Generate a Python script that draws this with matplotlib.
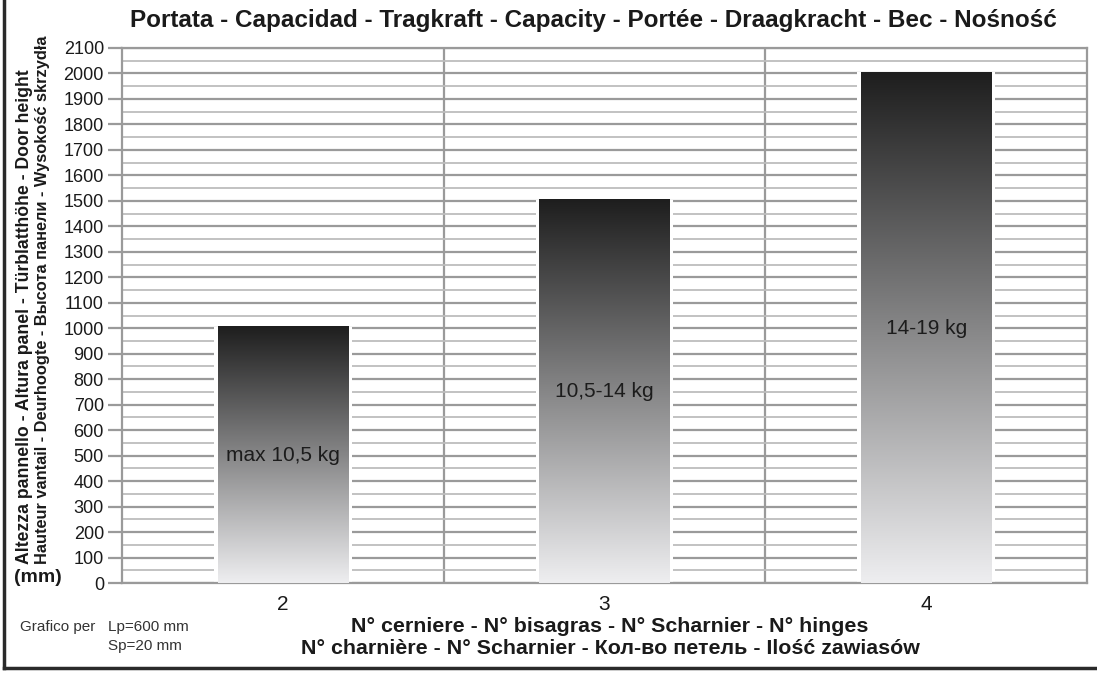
import matplotlib
matplotlib.use("Agg")
import matplotlib.pyplot as plt
import numpy as np
from matplotlib.colors import LinearSegmentedColormap
from matplotlib.ticker import MultipleLocator

# ---- data ----
hinges = [2, 3, 4]
door_height = [1005, 1505, 2005]
capacity_labels = ["max 10,5 kg", "10,5-14 kg", "14-19 kg"]
label_heights = [500, 750, 1000]
y_ticks = list(range(0, 2101, 100))

title = "Portata - Capacidad - Tragkraft - Capacity - Portée - Draagkracht - Bec - Nośność"
ylabel1 = "Altezza pannello - Altura panel - Türblatthöhe - Door height"
ylabel2 = "Hauteur vantail - Deurhoogte - Высота панели - Wysokość skrzydła"
xlabel1 = "N° cerniere - N° bisagras - N° Scharnier - N° hinges"
xlabel2 = "N° charnière - N° Scharnier - Кол-во петель - Ilość zawiasów"

plt.rcParams['font.family'] = ["Liberation Sans", "DejaVu Sans"]

W, H = 1097, 675
fig = plt.figure(figsize=(W / 100, H / 100), dpi=100)
fig.patch.set_facecolor("white")

ax = fig.add_axes([122 / W, 1 - 583 / H, (1087 - 122) / W, (583 - 48) / H])
ax.set_facecolor("white")
ax.set_xlim(1.5, 4.5)
ax.set_ylim(0, 2100)

grid_major = "#9a9a9a"
grid_minor = "#bdbdbd"
ax.yaxis.set_major_locator(MultipleLocator(100))
ax.yaxis.set_minor_locator(MultipleLocator(50))
ax.grid(axis="y", which="major", color=grid_major, lw=1.6, zorder=1)
ax.grid(axis="y", which="minor", color=grid_minor, lw=1.3, zorder=1)
for xv in [2.5, 3.5]:
    ax.axvline(xv, color=grid_major, lw=1.6, zorder=1)

for s in ax.spines.values():
    s.set_color(grid_major)
    s.set_linewidth(1.6)

ax.set_yticks(y_ticks)
ax.set_yticklabels([str(v) for v in y_ticks])
ax.tick_params(axis="y", which="major", length=10, width=1.6, color=grid_major,
               labelsize=13, labelcolor="#1a1a1a", pad=3)
ax.tick_params(axis="y", which="minor", length=0)
ax.set_xticks(hinges)
ax.set_xticklabels([str(h) for h in hinges])
ax.tick_params(axis="x", length=0, labelsize=15, labelcolor="#1a1a1a", pad=9)

# bars: white backing to clear grid, gradient fill on top
bw = 0.405
ax.bar(hinges, door_height, width=bw + 0.022, color="white", zorder=2)
cmap = LinearSegmentedColormap.from_list("g", ["#eeeef0", "#1e1e1e"])
grad = np.linspace(0, 1, 256).reshape(-1, 1)
for x, h in zip(hinges, door_height):
    ax.imshow(grad, extent=[x - bw / 2, x + bw / 2, 0, h], origin="lower",
              aspect="auto", cmap=cmap, zorder=3, interpolation="bicubic")
ax.set_xlim(1.5, 4.5)
ax.set_ylim(0, 2100)

for x, lbl, yl in zip(hinges, capacity_labels, label_heights):
    ax.text(x, yl, lbl, ha="center", va="center", fontsize=15,
            color="#1c1c1c", zorder=4)

# texts
fig.text(593 / W, 1 - 20 / H, title, ha="center", va="center", fontsize=17.5,
         fontweight="bold", color="#1a1a1a")
fig.text(25 / W, 1 - 564 / H, ylabel1, rotation=90, ha="center", va="bottom",
         fontsize=12.7, fontweight="bold", color="#1a1a1a")
fig.text(43 / W, 1 - 564 / H, ylabel2, rotation=90, ha="center", va="bottom",
         fontsize=11.8, fontweight="bold", color="#1a1a1a")
fig.text(38 / W, 1 - 578 / H, "(mm)", ha="center", va="center",
         fontsize=14, fontweight="bold", color="#1a1a1a")

fig.text(20 / W, 1 - 627 / H, "Grafico per", ha="left", va="center",
         fontsize=11, color="#333333")
fig.text(108 / W, 1 - 627 / H, "Lp=600 mm", ha="left", va="center",
         fontsize=11, color="#333333")
fig.text(108 / W, 1 - 646 / H, "Sp=20 mm", ha="left", va="center",
         fontsize=11, color="#333333")

fig.text(610 / W, 1 - 627 / H, xlabel1, ha="center", va="center",
         fontsize=15.4, fontweight="bold", color="#1a1a1a")
fig.text(610 / W, 1 - 648 / H, xlabel2, ha="center", va="center",
         fontsize=15.4, fontweight="bold", color="#1a1a1a")

# frame
fig.add_artist(plt.Line2D([4 / W, 4 / W], [1 - 668 / H, 1.0], color="#2a2a2a", lw=2.5))
fig.add_artist(plt.Line2D([4 / W, 1.0], [1 - 668 / H, 1 - 668 / H], color="#2a2a2a", lw=2.5))

fig.savefig("out.png", dpi=100, facecolor="white")
